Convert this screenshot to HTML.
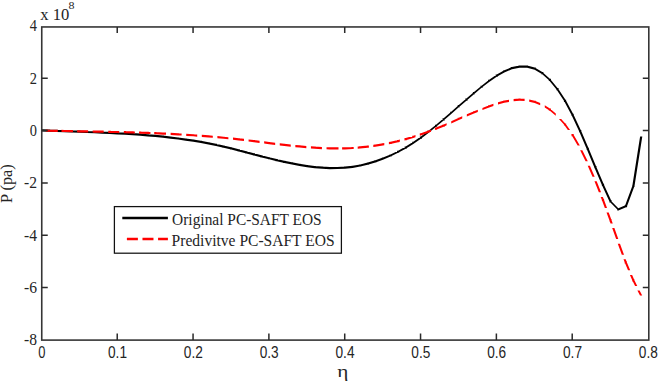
<!DOCTYPE html>
<html><head><meta charset="utf-8"><style>
html,body{margin:0;padding:0;background:#fff;}
svg{display:block;}
text{font-family:"Liberation Serif",serif;fill:#242424;}
.sans text{font-family:"Liberation Sans",sans-serif;}
</style></head><body>
<svg width="658" height="382" viewBox="0 0 658 382">
<rect width="658" height="382" fill="#fff"/>
<path d="M41.50 129.22 L49.09 129.53 L49.09 131.73 L41.50 131.42ZM49.09 129.53 L56.67 129.82 L56.67 132.02 L49.09 131.73ZM56.67 129.82 L64.26 130.09 L64.26 132.29 L56.67 132.02ZM64.26 130.09 L71.85 130.35 L71.85 132.55 L64.26 132.29ZM71.85 130.35 L79.44 130.62 L79.44 132.82 L71.85 132.55ZM79.44 130.62 L87.03 130.89 L87.03 133.09 L79.44 132.82ZM87.03 130.89 L94.61 131.17 L94.61 133.37 L87.03 133.09ZM94.61 131.17 L102.20 131.47 L102.20 133.67 L94.61 133.37ZM102.20 131.47 L109.79 131.81 L109.79 134.01 L102.20 133.67ZM109.79 131.81 L117.38 132.18 L117.38 134.38 L109.79 134.01ZM117.38 132.18 L124.96 132.59 L124.96 134.79 L117.38 134.38ZM124.96 132.59 L132.55 133.06 L132.55 135.26 L124.96 134.79ZM132.55 133.06 L140.14 133.59 L140.14 135.79 L132.55 135.26ZM140.14 133.59 L147.73 134.18 L147.73 136.38 L140.14 135.79ZM147.73 134.18 L155.31 134.85 L155.31 137.05 L147.73 136.38ZM155.31 134.85 L162.90 135.60 L162.90 137.80 L155.31 137.05ZM162.90 135.60 L170.49 136.45 L170.49 138.65 L162.90 137.80ZM170.49 136.45 L178.08 137.39 L178.08 139.59 L170.49 138.65ZM178.08 137.39 L185.66 138.43 L185.66 140.63 L178.08 139.59ZM185.66 138.43 L193.25 139.59 L193.25 141.79 L185.66 140.63ZM193.25 139.59 L200.84 140.87 L200.84 143.07 L193.25 141.79ZM200.84 140.87 L208.43 142.27 L208.43 144.47 L200.84 143.07ZM208.43 142.27 L216.01 143.82 L216.01 146.02 L208.43 144.47ZM216.01 143.82 L223.60 145.50 L223.60 147.70 L216.01 146.02ZM223.60 145.50 L231.19 147.31 L231.19 149.51 L223.60 147.70ZM231.19 147.31 L238.78 149.22 L238.78 151.42 L231.19 149.51ZM238.78 149.22 L246.36 151.20 L246.36 153.40 L238.78 151.42ZM246.36 151.20 L253.95 153.19 L253.95 155.39 L246.36 153.40ZM253.95 153.19 L261.54 155.18 L261.54 157.38 L253.95 155.39ZM261.54 155.18 L269.12 157.13 L269.12 159.33 L261.54 157.38ZM269.12 157.13 L276.71 158.99 L276.71 161.19 L269.12 159.33ZM276.71 158.99 L284.30 160.75 L284.30 162.95 L276.71 161.19ZM284.30 160.75 L291.89 162.35 L291.89 164.55 L284.30 162.95ZM291.89 162.35 L299.48 163.77 L299.48 165.97 L291.89 164.55ZM299.48 163.77 L307.06 164.98 L307.06 167.18 L299.48 165.97ZM307.06 164.98 L314.65 165.93 L314.65 168.13 L307.06 167.18ZM314.65 165.93 L322.24 166.60 L322.24 168.80 L314.65 168.13ZM322.24 166.60 L329.82 166.94 L329.82 169.14 L322.24 168.80ZM329.82 166.94 L337.41 166.92 L337.41 169.12 L329.82 169.14ZM337.41 166.92 L345.00 166.52 L345.00 168.72 L337.41 169.12ZM345.00 166.52 L352.59 165.68 L352.59 167.88 L345.00 168.72ZM352.59 165.68 L360.18 164.39 L360.18 166.59 L352.59 167.88ZM360.18 164.39 L367.76 162.62 L367.76 164.82 L360.18 166.59ZM367.76 162.62 L375.35 160.36 L375.35 162.56 L367.76 164.82ZM375.35 160.36 L382.94 157.62 L382.94 159.82 L375.35 162.56ZM382.94 157.62 L390.53 154.39 L390.53 156.59 L382.94 159.82ZM390.53 154.39 L398.11 150.66 L398.11 152.86 L390.53 156.59ZM398.11 150.66 L405.70 146.43 L405.70 148.63 L398.11 152.86ZM405.70 146.43 L413.29 141.69 L413.29 143.89 L405.70 148.63ZM413.29 141.69 L420.88 136.45 L420.88 138.65 L413.29 143.89ZM420.88 136.45 L428.46 130.74 L428.46 132.94 L420.88 138.65ZM428.46 130.74 L436.05 124.65 L436.05 126.85 L428.46 132.94ZM436.05 124.65 L443.64 118.28 L443.64 120.48 L436.05 126.85ZM443.64 118.28 L451.23 111.73 L451.23 113.93 L443.64 120.48ZM451.23 111.73 L458.81 105.09 L458.81 107.29 L451.23 113.93ZM458.81 105.09 L466.40 98.47 L466.40 100.67 L458.81 107.29ZM466.40 98.47 L473.99 91.96 L473.99 94.16 L466.40 100.67ZM473.99 91.96 L481.58 85.67 L481.58 87.87 L473.99 94.16ZM481.58 85.67 L489.16 79.77 L489.16 81.97 L481.58 87.87ZM489.16 79.77 L496.75 74.52 L496.75 76.72 L489.16 81.97ZM496.75 74.52 L504.34 70.21 L504.34 72.41 L496.75 76.72ZM504.34 70.21 L511.93 67.09 L511.93 69.29 L504.34 72.41ZM511.93 67.09 L519.51 65.44 L519.51 67.64 L511.93 69.29ZM519.51 65.44 L527.10 65.53 L527.10 67.73 L519.51 67.64ZM527.10 65.53 L534.69 67.62 L534.69 69.82 L527.10 67.73ZM534.69 67.62 L542.28 71.99 L542.28 74.19 L534.69 69.82ZM542.28 71.99 L549.86 78.81 L549.86 81.01 L542.28 74.19ZM550.96 79.91 L558.55 89.16 L556.35 89.16 L548.76 79.91ZM558.55 89.16 L566.14 100.84 L563.94 100.84 L556.35 89.16ZM566.14 100.84 L573.72 114.91 L571.52 114.91 L563.94 100.84ZM573.72 114.91 L581.31 131.21 L579.11 131.21 L571.52 114.91ZM581.31 131.21 L588.90 148.95 L586.70 148.95 L579.11 131.21ZM588.90 148.95 L596.49 167.18 L594.29 167.18 L586.70 148.95ZM596.49 167.18 L604.08 184.97 L601.88 184.97 L594.29 167.18ZM604.08 184.97 L611.66 201.38 L609.46 201.38 L601.88 184.97ZM611.66 201.38 L619.50 209.40 L617.30 209.40 L609.46 201.38ZM618.40 208.30 L626.00 205.00 L626.00 207.20 L618.40 210.50ZM624.90 206.10 L632.30 186.00 L634.50 186.00 L627.10 206.10ZM632.30 186.00 L640.10 136.40 L642.30 136.40 L634.50 186.00ZM47.99 129.53 L50.19 129.53 L50.19 131.73 L47.99 131.73ZM55.57 129.82 L57.77 129.82 L57.77 132.02 L55.57 132.02ZM63.16 130.09 L65.36 130.09 L65.36 132.29 L63.16 132.29ZM70.75 130.35 L72.95 130.35 L72.95 132.55 L70.75 132.55ZM78.34 130.62 L80.54 130.62 L80.54 132.82 L78.34 132.82ZM85.93 130.89 L88.13 130.89 L88.13 133.09 L85.93 133.09ZM93.51 131.17 L95.71 131.17 L95.71 133.37 L93.51 133.37ZM101.10 131.47 L103.30 131.47 L103.30 133.67 L101.10 133.67ZM108.69 131.81 L110.89 131.81 L110.89 134.01 L108.69 134.01ZM116.28 132.18 L118.48 132.18 L118.48 134.38 L116.28 134.38ZM123.86 132.59 L126.06 132.59 L126.06 134.79 L123.86 134.79ZM131.45 133.06 L133.65 133.06 L133.65 135.26 L131.45 135.26ZM139.04 133.59 L141.24 133.59 L141.24 135.79 L139.04 135.79ZM146.63 134.18 L148.83 134.18 L148.83 136.38 L146.63 136.38ZM154.21 134.85 L156.41 134.85 L156.41 137.05 L154.21 137.05ZM161.80 135.60 L164.00 135.60 L164.00 137.80 L161.80 137.80ZM169.39 136.45 L171.59 136.45 L171.59 138.65 L169.39 138.65ZM176.98 137.39 L179.18 137.39 L179.18 139.59 L176.98 139.59ZM184.56 138.43 L186.76 138.43 L186.76 140.63 L184.56 140.63ZM192.15 139.59 L194.35 139.59 L194.35 141.79 L192.15 141.79ZM199.74 140.87 L201.94 140.87 L201.94 143.07 L199.74 143.07ZM207.33 142.27 L209.53 142.27 L209.53 144.47 L207.33 144.47ZM214.91 143.82 L217.11 143.82 L217.11 146.02 L214.91 146.02ZM222.50 145.50 L224.70 145.50 L224.70 147.70 L222.50 147.70ZM230.09 147.31 L232.29 147.31 L232.29 149.51 L230.09 149.51ZM237.68 149.22 L239.88 149.22 L239.88 151.42 L237.68 151.42ZM245.26 151.20 L247.46 151.20 L247.46 153.40 L245.26 153.40ZM252.85 153.19 L255.05 153.19 L255.05 155.39 L252.85 155.39ZM260.44 155.18 L262.64 155.18 L262.64 157.38 L260.44 157.38ZM268.02 157.13 L270.22 157.13 L270.22 159.33 L268.02 159.33ZM275.61 158.99 L277.81 158.99 L277.81 161.19 L275.61 161.19ZM283.20 160.75 L285.40 160.75 L285.40 162.95 L283.20 162.95ZM290.79 162.35 L292.99 162.35 L292.99 164.55 L290.79 164.55ZM298.38 163.77 L300.58 163.77 L300.58 165.97 L298.38 165.97ZM305.96 164.98 L308.16 164.98 L308.16 167.18 L305.96 167.18ZM313.55 165.93 L315.75 165.93 L315.75 168.13 L313.55 168.13ZM321.14 166.60 L323.34 166.60 L323.34 168.80 L321.14 168.80ZM328.72 166.94 L330.92 166.94 L330.92 169.14 L328.72 169.14ZM336.31 166.92 L338.51 166.92 L338.51 169.12 L336.31 169.12ZM343.90 166.52 L346.10 166.52 L346.10 168.72 L343.90 168.72ZM351.49 165.68 L353.69 165.68 L353.69 167.88 L351.49 167.88ZM359.08 164.39 L361.28 164.39 L361.28 166.59 L359.08 166.59ZM366.66 162.62 L368.86 162.62 L368.86 164.82 L366.66 164.82ZM374.25 160.36 L376.45 160.36 L376.45 162.56 L374.25 162.56ZM381.84 157.62 L384.04 157.62 L384.04 159.82 L381.84 159.82ZM389.43 154.39 L391.63 154.39 L391.63 156.59 L389.43 156.59ZM397.01 150.66 L399.21 150.66 L399.21 152.86 L397.01 152.86ZM404.60 146.43 L406.80 146.43 L406.80 148.63 L404.60 148.63ZM412.19 141.69 L414.39 141.69 L414.39 143.89 L412.19 143.89ZM419.78 136.45 L421.98 136.45 L421.98 138.65 L419.78 138.65ZM427.36 130.74 L429.56 130.74 L429.56 132.94 L427.36 132.94ZM434.95 124.65 L437.15 124.65 L437.15 126.85 L434.95 126.85ZM442.54 118.28 L444.74 118.28 L444.74 120.48 L442.54 120.48ZM450.13 111.73 L452.33 111.73 L452.33 113.93 L450.13 113.93ZM457.71 105.09 L459.91 105.09 L459.91 107.29 L457.71 107.29ZM465.30 98.47 L467.50 98.47 L467.50 100.67 L465.30 100.67ZM472.89 91.96 L475.09 91.96 L475.09 94.16 L472.89 94.16ZM480.48 85.67 L482.68 85.67 L482.68 87.87 L480.48 87.87ZM488.06 79.77 L490.26 79.77 L490.26 81.97 L488.06 81.97ZM495.65 74.52 L497.85 74.52 L497.85 76.72 L495.65 76.72ZM503.24 70.21 L505.44 70.21 L505.44 72.41 L503.24 72.41ZM510.83 67.09 L513.03 67.09 L513.03 69.29 L510.83 69.29ZM518.41 65.44 L520.61 65.44 L520.61 67.64 L518.41 67.64ZM526.00 65.53 L528.20 65.53 L528.20 67.73 L526.00 67.73ZM533.59 67.62 L535.79 67.62 L535.79 69.82 L533.59 69.82ZM541.18 71.99 L543.38 71.99 L543.38 74.19 L541.18 74.19ZM548.76 78.81 L550.96 78.81 L550.96 81.01 L548.76 81.01ZM556.35 88.06 L558.55 88.06 L558.55 90.26 L556.35 90.26ZM563.94 99.74 L566.14 99.74 L566.14 101.94 L563.94 101.94ZM571.52 113.81 L573.72 113.81 L573.72 116.01 L571.52 116.01ZM579.11 130.11 L581.31 130.11 L581.31 132.31 L579.11 132.31ZM586.70 147.85 L588.90 147.85 L588.90 150.05 L586.70 150.05ZM594.29 166.08 L596.49 166.08 L596.49 168.28 L594.29 168.28ZM601.88 183.87 L604.08 183.87 L604.08 186.07 L601.88 186.07ZM609.46 200.28 L611.66 200.28 L611.66 202.48 L609.46 202.48ZM617.30 208.30 L619.50 208.30 L619.50 210.50 L617.30 210.50ZM624.90 205.00 L627.10 205.00 L627.10 207.20 L624.90 207.20ZM632.30 184.90 L634.50 184.90 L634.50 187.10 L632.30 187.10Z" fill="#000"/>
<path d="M45.90 129.57 L49.09 129.64 L49.09 131.84 L45.90 131.77ZM49.09 129.64 L56.67 129.78 L56.67 131.98 L49.09 131.84ZM56.67 129.78 L56.90 129.78 L56.90 131.98 L56.67 131.98ZM47.99 129.64 L50.19 129.64 L50.19 131.84 L47.99 131.84ZM55.57 129.78 L57.77 129.78 L57.77 131.98 L55.57 131.98ZM61.49 129.86 L64.26 129.91 L64.26 132.11 L61.49 132.06ZM64.26 129.91 L71.85 130.05 L71.85 132.25 L64.26 132.11ZM71.85 130.05 L72.49 130.06 L72.49 132.26 L71.85 132.25ZM63.16 129.91 L65.36 129.91 L65.36 132.11 L63.16 132.11ZM70.75 130.05 L72.95 130.05 L72.95 132.25 L70.75 132.25ZM77.08 130.14 L79.44 130.18 L79.44 132.38 L77.08 132.34ZM79.44 130.18 L87.03 130.31 L87.03 132.51 L79.44 132.38ZM87.03 130.31 L88.08 130.33 L88.08 132.53 L87.03 132.51ZM78.34 130.18 L80.54 130.18 L80.54 132.38 L78.34 132.38ZM85.93 130.31 L88.13 130.31 L88.13 132.51 L85.93 132.51ZM92.67 130.41 L94.61 130.45 L94.61 132.65 L92.67 132.61ZM94.61 130.45 L102.20 130.59 L102.20 132.79 L94.61 132.65ZM102.20 130.59 L103.67 130.62 L103.67 132.82 L102.20 132.79ZM93.51 130.45 L95.71 130.45 L95.71 132.65 L93.51 132.65ZM101.10 130.59 L103.30 130.59 L103.30 132.79 L101.10 132.79ZM108.26 130.72 L109.79 130.75 L109.79 132.95 L108.26 132.92ZM109.79 130.75 L117.38 130.92 L117.38 133.12 L109.79 132.95ZM117.38 130.92 L119.26 130.97 L119.26 133.17 L117.38 133.12ZM108.69 130.75 L110.89 130.75 L110.89 132.95 L108.69 132.95ZM116.28 130.92 L118.48 130.92 L118.48 133.12 L116.28 133.12ZM123.85 131.08 L124.96 131.11 L124.96 133.31 L123.85 133.28ZM124.96 131.11 L132.55 131.32 L132.55 133.52 L124.96 133.31ZM132.55 131.32 L134.85 131.39 L134.85 133.59 L132.55 133.52ZM123.86 131.11 L126.06 131.11 L126.06 133.31 L123.86 133.31ZM131.45 131.32 L133.65 131.32 L133.65 133.52 L131.45 133.52ZM139.44 131.54 L140.14 131.56 L140.14 133.76 L139.44 133.74ZM140.14 131.56 L147.73 131.82 L147.73 134.02 L140.14 133.76ZM147.73 131.82 L150.44 131.92 L150.44 134.12 L147.73 134.02ZM139.04 131.56 L141.24 131.56 L141.24 133.76 L139.04 133.76ZM146.63 131.82 L148.83 131.82 L148.83 134.02 L146.63 134.02ZM155.03 132.10 L155.31 132.11 L155.31 134.31 L155.03 134.30ZM155.31 132.11 L162.90 132.44 L162.90 134.64 L155.31 134.31ZM162.90 132.44 L166.03 132.59 L166.03 134.79 L162.90 134.64ZM154.21 132.11 L156.41 132.11 L156.41 134.31 L154.21 134.31ZM161.80 132.44 L164.00 132.44 L164.00 134.64 L161.80 134.64ZM170.62 132.81 L178.08 133.21 L178.08 135.41 L170.62 135.01ZM178.08 133.21 L181.62 133.42 L181.62 135.62 L178.08 135.41ZM176.98 133.21 L179.18 133.21 L179.18 135.41 L176.98 135.41ZM186.21 133.69 L193.25 134.15 L193.25 136.35 L186.21 135.89ZM193.25 134.15 L197.21 134.43 L197.21 136.63 L193.25 136.35ZM192.15 134.15 L194.35 134.15 L194.35 136.35 L192.15 136.35ZM201.80 134.76 L208.43 135.28 L208.43 137.48 L201.80 136.96ZM208.43 135.28 L212.80 135.65 L212.80 137.85 L208.43 137.48ZM207.33 135.28 L209.53 135.28 L209.53 137.48 L207.33 137.48ZM217.39 136.06 L223.60 136.64 L223.60 138.84 L217.39 138.26ZM223.60 136.64 L228.39 137.13 L228.39 139.33 L223.60 138.84ZM222.50 136.64 L224.70 136.64 L224.70 138.84 L222.50 138.84ZM232.98 137.61 L238.78 138.24 L238.78 140.44 L232.98 139.81ZM238.78 138.24 L243.98 138.85 L243.98 141.05 L238.78 140.44ZM237.68 138.24 L239.88 138.24 L239.88 140.44 L237.68 140.44ZM248.57 139.40 L253.95 140.06 L253.95 142.26 L248.57 141.60ZM253.95 140.06 L259.57 140.76 L259.57 142.96 L253.95 142.26ZM252.85 140.06 L255.05 140.06 L255.05 142.26 L252.85 142.26ZM264.16 141.34 L269.12 141.96 L269.12 144.16 L264.16 143.54ZM269.12 141.96 L275.16 142.70 L275.16 144.90 L269.12 144.16ZM268.02 141.96 L270.22 141.96 L270.22 144.16 L268.02 144.16ZM279.75 143.25 L284.30 143.78 L284.30 145.98 L279.75 145.45ZM284.30 143.78 L290.75 144.49 L290.75 146.69 L284.30 145.98ZM283.20 143.78 L285.40 143.78 L285.40 145.98 L283.20 145.98ZM295.34 144.96 L299.48 145.37 L299.48 147.57 L295.34 147.16ZM299.48 145.37 L306.34 145.97 L306.34 148.17 L299.48 147.57ZM298.38 145.37 L300.58 145.37 L300.58 147.57 L298.38 147.57ZM310.93 146.31 L314.65 146.57 L314.65 148.77 L310.93 148.51ZM314.65 146.57 L321.93 146.97 L321.93 149.17 L314.65 148.77ZM313.55 146.57 L315.75 146.57 L315.75 148.77 L313.55 148.77ZM326.52 147.14 L329.82 147.25 L329.82 149.45 L326.52 149.34ZM329.82 147.25 L337.41 147.33 L337.41 149.53 L329.82 149.45ZM337.41 147.33 L337.52 147.33 L337.52 149.53 L337.41 149.53ZM328.72 147.25 L330.92 147.25 L330.92 149.45 L328.72 149.45ZM336.31 147.33 L338.51 147.33 L338.51 149.53 L336.31 149.53ZM342.11 147.27 L345.00 147.23 L345.00 149.43 L342.11 149.47ZM345.00 147.23 L352.59 146.92 L352.59 149.12 L345.00 149.43ZM352.59 146.92 L353.11 146.88 L353.11 149.08 L352.59 149.12ZM343.90 147.23 L346.10 147.23 L346.10 149.43 L343.90 149.43ZM351.49 146.92 L353.69 146.92 L353.69 149.12 L351.49 149.12ZM357.70 146.55 L360.18 146.37 L360.18 148.57 L357.70 148.75ZM360.18 146.37 L367.76 145.59 L367.76 147.79 L360.18 148.57ZM367.76 145.59 L368.70 145.46 L368.70 147.66 L367.76 147.79ZM359.08 146.37 L361.28 146.37 L361.28 148.57 L359.08 148.57ZM366.66 145.59 L368.86 145.59 L368.86 147.79 L366.66 147.79ZM373.29 144.83 L375.35 144.55 L375.35 146.75 L373.29 147.03ZM375.35 144.55 L382.94 143.28 L382.94 145.48 L375.35 146.75ZM382.94 143.28 L384.29 143.01 L384.29 145.21 L382.94 145.48ZM374.25 144.55 L376.45 144.55 L376.45 146.75 L374.25 146.75ZM381.84 143.28 L384.04 143.28 L384.04 145.48 L381.84 145.48ZM388.88 142.08 L390.53 141.75 L390.53 143.95 L388.88 144.28ZM390.53 141.75 L398.11 139.99 L398.11 142.19 L390.53 143.95ZM398.11 139.99 L399.88 139.52 L399.88 141.72 L398.11 142.19ZM389.43 141.75 L391.63 141.75 L391.63 143.95 L389.43 143.95ZM397.01 139.99 L399.21 139.99 L399.21 142.19 L397.01 142.19ZM404.47 138.31 L405.70 137.98 L405.70 140.18 L404.47 140.51ZM405.70 137.98 L413.29 135.74 L413.29 137.94 L405.70 140.18ZM413.29 135.74 L415.47 135.03 L415.47 137.23 L413.29 137.94ZM404.60 137.98 L406.80 137.98 L406.80 140.18 L404.60 140.18ZM412.19 135.74 L414.39 135.74 L414.39 137.94 L412.19 137.94ZM420.06 133.53 L420.88 133.26 L420.88 135.46 L420.06 135.73ZM420.88 133.26 L428.46 130.53 L428.46 132.73 L420.88 135.46ZM428.46 130.53 L431.06 129.52 L431.06 131.72 L428.46 132.73ZM419.78 133.26 L421.98 133.26 L421.98 135.46 L419.78 135.46ZM427.36 130.53 L429.56 130.53 L429.56 132.73 L427.36 132.73ZM435.65 127.74 L436.05 127.58 L436.05 129.78 L435.65 129.94ZM436.05 127.58 L443.64 124.44 L443.64 126.64 L436.05 129.78ZM443.64 124.44 L446.65 123.15 L446.65 125.35 L443.64 126.64ZM434.95 127.58 L437.15 127.58 L437.15 129.78 L434.95 129.78ZM442.54 124.44 L444.74 124.44 L444.74 126.64 L442.54 126.64ZM451.24 121.18 L458.81 117.86 L458.81 120.06 L451.24 123.38ZM458.81 117.86 L462.24 116.36 L462.24 118.56 L458.81 120.06ZM457.71 117.86 L459.91 117.86 L459.91 120.06 L457.71 120.06ZM466.83 114.36 L473.99 111.30 L473.99 113.50 L466.83 116.56ZM473.99 111.30 L477.83 109.73 L477.83 111.93 L473.99 113.50ZM472.89 111.30 L475.09 111.30 L475.09 113.50 L472.89 113.50ZM482.42 107.88 L489.16 105.31 L489.16 107.51 L482.42 110.08ZM489.16 105.31 L493.42 103.85 L493.42 106.05 L489.16 107.51ZM488.06 105.31 L490.26 105.31 L490.26 107.51 L488.06 107.51ZM498.01 102.36 L504.34 100.60 L504.34 102.80 L498.01 104.56ZM504.34 100.60 L509.01 99.71 L509.01 101.91 L504.34 102.80ZM503.24 100.60 L505.44 100.60 L505.44 102.80 L503.24 102.80ZM513.60 99.03 L519.51 98.57 L519.51 100.77 L513.60 101.23ZM519.51 98.57 L524.60 98.87 L524.60 101.07 L519.51 100.77ZM518.41 98.57 L520.61 98.57 L520.61 100.77 L518.41 100.77ZM529.19 99.48 L534.69 100.70 L534.69 102.90 L529.19 101.68ZM534.69 100.70 L540.19 102.94 L540.19 105.14 L534.69 102.90ZM533.59 100.70 L535.79 100.70 L535.79 102.90 L533.59 102.90ZM544.78 105.34 L549.86 108.48 L549.86 110.68 L544.78 107.54ZM549.86 108.48 L555.78 113.53 L555.78 115.73 L549.86 110.68ZM548.76 108.48 L550.96 108.48 L550.96 110.68 L548.76 110.68ZM561.17 118.98 L566.14 124.51 L563.94 124.51 L558.97 118.98ZM566.14 124.51 L570.05 129.98 L567.85 129.98 L563.94 124.51ZM563.94 123.41 L566.14 123.41 L566.14 125.61 L563.94 125.61ZM573.33 134.57 L573.72 135.12 L571.52 135.12 L571.13 134.57ZM573.72 135.12 L579.84 145.57 L577.64 145.57 L571.52 135.12ZM571.52 134.02 L573.72 134.02 L573.72 136.22 L571.52 136.22ZM582.34 150.16 L587.78 161.16 L585.58 161.16 L580.14 150.16ZM589.91 165.75 L594.70 176.75 L592.50 176.75 L587.71 165.75ZM596.68 181.34 L601.04 192.34 L598.84 192.34 L594.48 181.34ZM602.86 196.93 L604.08 200.00 L601.88 200.00 L600.66 196.93ZM604.08 200.00 L607.02 207.93 L604.82 207.93 L601.88 200.00ZM601.88 198.90 L604.08 198.90 L604.08 201.10 L601.88 201.10ZM608.72 212.52 L611.66 220.46 L609.46 220.46 L606.52 212.52ZM611.66 220.46 L612.75 223.52 L610.55 223.52 L609.46 220.46ZM609.46 219.36 L611.66 219.36 L611.66 221.56 L609.46 221.56ZM614.39 228.11 L618.32 239.11 L616.12 239.11 L612.19 228.11ZM619.98 243.70 L624.02 254.70 L621.82 254.70 L617.78 243.70ZM625.71 259.29 L626.84 262.35 L624.64 262.35 L623.51 259.29ZM626.84 262.35 L630.20 270.29 L628.00 270.29 L624.64 262.35ZM624.64 261.25 L626.84 261.25 L626.84 263.45 L624.64 263.45ZM632.14 274.88 L634.43 280.30 L632.23 280.30 L629.94 274.88ZM634.43 280.30 L637.26 285.88 L635.06 285.88 L632.23 280.30ZM632.23 279.20 L634.43 279.20 L634.43 281.40 L632.23 281.40ZM639.59 290.47 L642.20 295.60 L640.00 295.60 L637.39 290.47Z" fill="#f00"/>
<rect x="41.75" y="26.95" width="607.05" height="313.15000000000003" fill="none" stroke="#363636" stroke-width="1.6"/>
<path d="M117.23 340.1V333.6M117.23 26.95V32.95M193.06 340.1V333.6M193.06 26.95V32.95M268.89 340.1V333.6M268.89 26.95V32.95M344.72 340.1V333.6M344.72 26.95V32.95M420.55 340.1V333.6M420.55 26.95V32.95M496.38 340.1V333.6M496.38 26.95V32.95M572.21 340.1V333.6M572.21 26.95V32.95M41.75 78.30H47.75M648.8 78.30H642.8M41.75 130.60H47.75M648.8 130.60H642.8M41.75 182.90H47.75M648.8 182.90H642.8M41.75 235.20H47.75M648.8 235.20H642.8M41.75 287.50H47.75M648.8 287.50H642.8" stroke="#2a2a2a" stroke-width="1.5" fill="none"/>
<g class="sans" font-size="15.6"><text x="41.90" y="357.9" text-anchor="middle" textLength="7.2" lengthAdjust="spacingAndGlyphs">0</text><text x="117.53" y="357.9" text-anchor="middle" textLength="19" lengthAdjust="spacingAndGlyphs">0.1</text><text x="193.36" y="357.9" text-anchor="middle" textLength="19" lengthAdjust="spacingAndGlyphs">0.2</text><text x="269.19" y="357.9" text-anchor="middle" textLength="19" lengthAdjust="spacingAndGlyphs">0.3</text><text x="345.02" y="357.9" text-anchor="middle" textLength="19" lengthAdjust="spacingAndGlyphs">0.4</text><text x="420.85" y="357.9" text-anchor="middle" textLength="19" lengthAdjust="spacingAndGlyphs">0.5</text><text x="496.68" y="357.9" text-anchor="middle" textLength="19" lengthAdjust="spacingAndGlyphs">0.6</text><text x="572.51" y="357.9" text-anchor="middle" textLength="19" lengthAdjust="spacingAndGlyphs">0.7</text><text x="648.34" y="357.9" text-anchor="middle" textLength="19" lengthAdjust="spacingAndGlyphs">0.8</text></g>
<g font-size="17"><text x="37.0" y="31.40" text-anchor="end" textLength="7.2" lengthAdjust="spacingAndGlyphs">4</text><text x="37.0" y="83.70" text-anchor="end" textLength="7.2" lengthAdjust="spacingAndGlyphs">2</text><text x="37.0" y="136.00" text-anchor="end" textLength="7.2" lengthAdjust="spacingAndGlyphs">0</text><text x="37.0" y="188.30" text-anchor="end" textLength="13" lengthAdjust="spacingAndGlyphs">-2</text><text x="37.0" y="240.60" text-anchor="end" textLength="13" lengthAdjust="spacingAndGlyphs">-4</text><text x="37.0" y="292.90" text-anchor="end" textLength="13" lengthAdjust="spacingAndGlyphs">-6</text><text x="37.0" y="345.20" text-anchor="end" textLength="13" lengthAdjust="spacingAndGlyphs">-8</text></g>
<text x="40.3" y="19.8" font-size="17" textLength="29" lengthAdjust="spacingAndGlyphs">x 10</text>
<text x="68.6" y="8.7" font-size="10.5" textLength="6" lengthAdjust="spacingAndGlyphs">8</text>
<text transform="translate(11.8,203) rotate(-90)" font-size="16" textLength="38.6" lengthAdjust="spacingAndGlyphs">P (pa)</text>
<text transform="translate(342.7,377.1) scale(1.25,1)" font-size="17" text-anchor="middle">&#951;</text>
<rect x="114.4" y="206.6" width="227" height="46.6" fill="#fff" stroke="#111" stroke-width="1.25"/>
<line x1="122.3" y1="218" x2="167.9" y2="218" stroke="#000" stroke-width="2.6"/>
<line x1="122.3" y1="239" x2="167.9" y2="239" stroke="#f00" stroke-width="2.6" stroke-dasharray="11 4.59" stroke-dashoffset="11"/>
<text x="172.1" y="224.7" font-size="17" textLength="149.6" lengthAdjust="spacingAndGlyphs">Original PC-SAFT EOS</text>
<text x="171.6" y="245.6" font-size="17" textLength="163" lengthAdjust="spacingAndGlyphs">Predivitve PC-SAFT EOS</text>
</svg>
</body></html>
